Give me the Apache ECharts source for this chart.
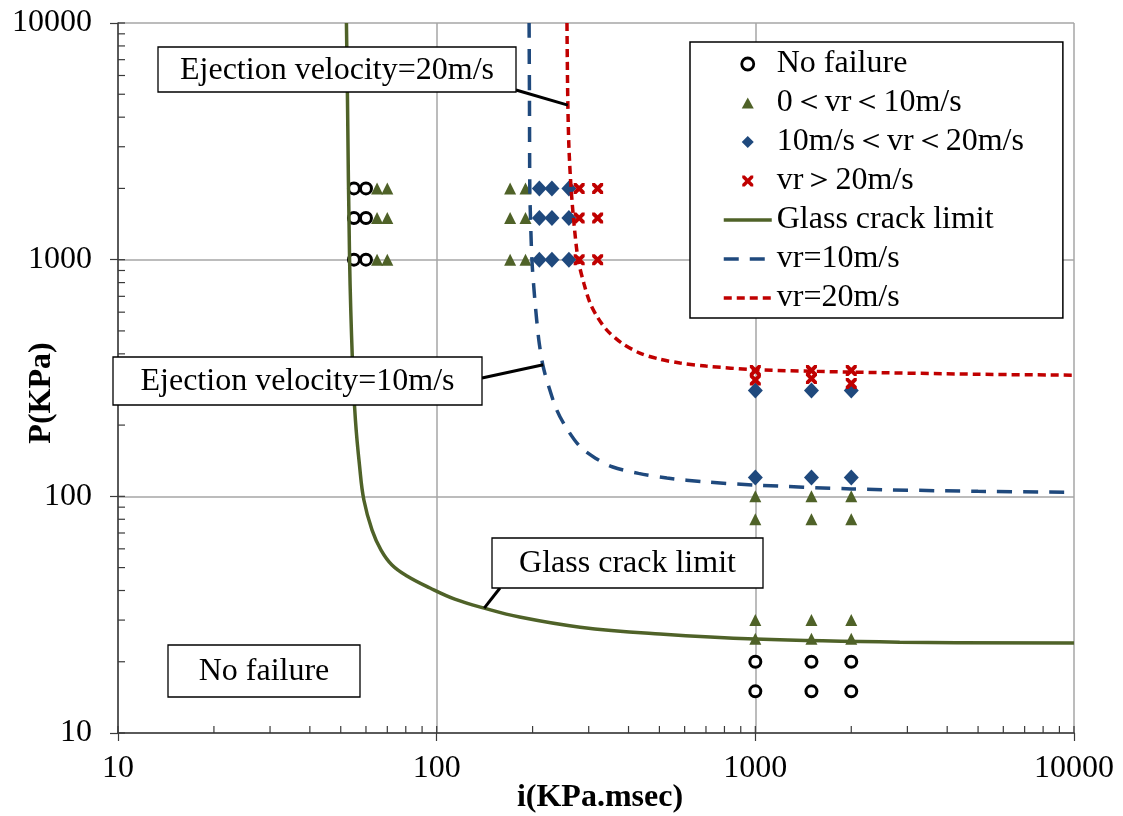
<!DOCTYPE html>
<html><head><meta charset="utf-8">
<script src="https://cdn.jsdelivr.net/npm/echarts@6/dist/echarts.min.js"></script>
<style>html,body{margin:0;padding:0;background:#fff}#c{width:1123px;height:816px}</style>
</head><body><div id="c"></div>
<script>
// ---- data ----
var xTicks = [10, 100, 1000, 10000];
var yTicks = [10, 100, 1000, 10000];
var seriesNames = ['No failure', '0＜vr＜10m/s', '10m/s＜vr＜20m/s', 'vr＞20m/s', 'Glass crack limit', 'vr=10m/s', 'vr=20m/s'];
var noFailure = [[55,2000],[60,2000],[55,1500],[60,1500],[55,1000],[60,1000],
  [1000,20],[1500,20],[2000,20],[1000,15],[1500,15],[2000,15]];
var vrBelow10 = [[65,2000],[70,2000],[65,1500],[70,1500],[65,1000],[70,1000],
  [170,2000],[190,2000],[170,1500],[190,1500],[170,1000],[190,1000],
  [1000,100],[1500,100],[2000,100],[1000,80],[1500,80],[2000,80],
  [1000,30],[1500,30],[2000,30],[1000,25],[1500,25],[2000,25]];
var vr10to20 = [[210,2000],[230,2000],[260,2000],[210,1500],[230,1500],[260,1500],
  [210,1000],[230,1000],[260,1000],
  [1000,280],[1500,280],[2000,280],[1000,120],[1500,120],[2000,120]];
var vrAbove20 = [[280,2000],[320,2000],[280,1500],[320,1500],[280,1000],[320,1000],
  [1000,340],[1000,310],[1500,340],[1500,315],[2000,340],[2000,300]];
var glassCrack = [[52.1,10000],[52.5,4725],[53.3,1000],[54.4,376],[55.6,210],[57.3,134],
  [59.1,96.5],[62.7,72],[66.9,59.3],[72.4,51.3],[80.7,46.1],[95.3,41.0],[114,36.8],
  [141,33.7],[182,30.9],[282,28],[502,26.2],[1000,24.95],[2840,24.2],[10000,24]];
var vr10 = [[195,10000],[195.5,5000],[196,2000],[197,1500],[199,1000],[202,750],[206,556],
  [210,440],[216,352],[225,290],[238,232],[255,195],[282,162],[315,145],[357,133],
  [430,125],[528,119.5],[700,115],[1000,111.6],[2000,107.5],[5000,105],[10000,104]];
var vr20 = [[256.4,10000],[257,7000],[258,4590],[260,3000],[264,2027],[270,1400],[278,1000],
  [290,790],[303,656],[320,570],[342,504],[380,445],[434,403],[500,380],[580,366],
  [700,355],[1000,343],[2000,335],[5000,328],[10000,325]];
// annotations: text and the curve point their pointer touches
var notes = [
  {text: 'Ejection velocity=20m/s', at: [258, 4500]},
  {text: 'Ejection velocity=10m/s', at: [216, 360]},
  {text: 'Glass crack limit', at: [141, 33.7]},
  {text: 'No failure', at: null}
];

var FONT = '"Liberation Serif", "Times New Roman", serif';
var crossPath = 'path://M0,0 L2.5,0 L5,2.5 L7.5,0 L10,0 L10,2.5 L7.5,5 L10,7.5 L10,10 L7.5,10 L5,7.5 L2.5,10 L0,10 L0,7.5 L2.5,5 L0,2.5 Z';
// legend icons: shapes centred in a 48x12 box (the M corners fix the box)
var legTri = 'path://M0,0 M48,12 M18,11.5 L24,0.5 L30,11.5 Z';
var legDia = 'path://M0,0 M48,12 M24,0 L30,6 L24,12 L18,6 Z';
var legCross = 'path://M0,0 M48,12 M18.5,0.5 L21,0.5 L24,3.5 L27,0.5 L29.5,0.5 L29.5,3 L26.5,6 L29.5,9 L29.5,11.5 L27,11.5 L24,8.5 L21,11.5 L18.5,11.5 L18.5,9 L21.5,6 L18.5,3 Z';
var cGreen = '#4F6228', cBlue = '#1F497D', cRed = '#C00000';

var chart = echarts.init(document.getElementById('c'), null, {renderer: 'canvas'});
function axisCommon(ticks) {
  return {
    type: 'log', logBase: 10, min: ticks[0], max: ticks[ticks.length - 1],
    axisLine: {show: true, lineStyle: {color: '#3a3a3a', width: 1.5}},
    axisTick: {show: true, inside: false, length: 8, lineStyle: {color: '#3a3a3a', width: 1.2}},
    splitLine: {show: true, lineStyle: {color: '#a6a6a6', width: 1.5}},
    minorTick: {show: false}, minorSplitLine: {show: false},
    axisLabel: {color: '#000', fontFamily: FONT, fontSize: 32,
      formatter: function (v) { var r = Math.round(v); return ticks.indexOf(r) >= 0 ? String(r) : ''; }}
  };
}
var xAxis = axisCommon(xTicks); xAxis.axisLabel.margin = 20;
var yAxis = axisCommon(yTicks); yAxis.axisLabel.margin = 26;

var noLineSymbol = {opacity: 0};
var option = {
  animation: false,
  backgroundColor: '#fff',
  grid: {left: 118, right: 49, top: 23, bottom: 83, containLabel: false},
  xAxis: xAxis,
  yAxis: yAxis,
  legend: {
    orient: 'vertical', left: 690, top: 42,
    backgroundColor: '#fff', borderColor: '#000', borderWidth: 1.5,
    padding: [6, 39, 4, 32], itemGap: 7, itemWidth: 48, itemHeight: 12,
    textStyle: {color: '#000', fontFamily: FONT, fontSize: 32},
    data: [
      {name: seriesNames[0], icon: 'circle', itemStyle: {color: '#fff', borderColor: '#000', borderWidth: 2.8}},
      {name: seriesNames[1], icon: legTri, itemStyle: {color: cGreen}},
      {name: seriesNames[2], icon: legDia, itemStyle: {color: cBlue}},
      {name: seriesNames[3], icon: legCross, itemStyle: {color: cRed}},
      {name: seriesNames[4], itemStyle: noLineSymbol, lineStyle: {width: 3.5}},
      {name: seriesNames[5], itemStyle: noLineSymbol, lineStyle: {width: 3.5}},
      {name: seriesNames[6], itemStyle: noLineSymbol, lineStyle: {width: 3.5}}
    ]
  },
  series: [
    {name: seriesNames[0], type: 'scatter', data: noFailure, symbol: 'circle', symbolSize: 11, z: 3,
     itemStyle: {color: '#fff', borderColor: '#000', borderWidth: 3, opacity: 1}},
    {name: seriesNames[1], type: 'scatter', data: vrBelow10, symbol: 'triangle', symbolSize: 12, z: 3,
     itemStyle: {color: cGreen, opacity: 1}},
    {name: seriesNames[2], type: 'scatter', data: vr10to20, symbol: 'diamond', symbolSize: [15, 16], z: 3,
     itemStyle: {color: cBlue, opacity: 1}},
    {name: seriesNames[3], type: 'scatter', data: vrAbove20, symbol: crossPath, symbolSize: 11, z: 3,
     itemStyle: {color: cRed, opacity: 1}},
    {name: seriesNames[4], type: 'line', data: glassCrack, symbol: 'none', smooth: 0.4, z: 4,
     lineStyle: {color: cGreen, width: 3.5}, itemStyle: {color: cGreen}},
    {name: seriesNames[5], type: 'line', data: vr10, symbol: 'none', smooth: 0.3, z: 4,
     lineStyle: {color: cBlue, width: 3.5, type: [15, 11]}, itemStyle: {color: cBlue}},
    {name: seriesNames[6], type: 'line', data: vr20, symbol: 'none', smooth: 0.3, z: 4,
     lineStyle: {color: cRed, width: 3.5, type: [8, 5]}, itemStyle: {color: cRed}}
  ]
};
chart.setOption(option);

// ---- overlay: minor log ticks, axis names, annotation boxes ----
function px(v) { return chart.convertToPixel({xAxisIndex: 0}, v); }
function py(v) { return chart.convertToPixel({yAxisIndex: 0}, v); }
var g = [];
var x0 = px(xTicks[0]), y0 = py(yTicks[0]);
for (var d = 0; d < xTicks.length; d++) {
  for (var m = 1; m <= 9; m++) {
    var v = xTicks[d] * m;
    if (v > xTicks[xTicks.length - 1]) break;
    var X = px(v);
    g.push({type: 'line', shape: {x1: X, y1: y0, x2: X, y2: y0 - 7}, style: {stroke: '#3a3a3a', lineWidth: 1.2}, z: 5});
  }
}
for (var d2 = 0; d2 < yTicks.length; d2++) {
  for (var m2 = 1; m2 <= 9; m2++) {
    var w = yTicks[d2] * m2;
    if (w > yTicks[yTicks.length - 1]) break;
    var Y = py(w);
    g.push({type: 'line', shape: {x1: x0, y1: Y, x2: x0 + 7, y2: Y}, style: {stroke: '#3a3a3a', lineWidth: 1.2}, z: 5});
  }
}
// axis names
g.push({type: 'text', x: 600, y: 798, style: {text: 'i(KPa.msec)', font: 'bold 32px ' + FONT, fill: '#000', align: 'center', verticalAlign: 'middle'}, z: 6});
g.push({type: 'text', x: 42, y: 393, rotation: Math.PI / 2, style: {text: 'P(KPa)', font: 'bold 32px ' + FONT, fill: '#000', align: 'center', verticalAlign: 'middle'}, z: 6});
// annotation boxes (layout in pixels), pointers end on curve data points
var boxes = [
  {x: 158, y: 47, w: 358, h: 45, from: [516, 90]},
  {x: 113, y: 357, w: 369, h: 48, from: [482, 378]},
  {x: 492, y: 538, w: 271, h: 50, from: [500, 588]},
  {x: 168, y: 645, w: 192, h: 52, from: null}
];
boxes.forEach(function (b, i) {
  var n = notes[i];
  if (n.at) {
    g.push({type: 'line', shape: {x1: b.from[0], y1: b.from[1], x2: px(n.at[0]), y2: py(n.at[1])},
      style: {stroke: '#000', lineWidth: 3}, z: 10});
  }
  g.push({type: 'rect', shape: {x: b.x, y: b.y, width: b.w, height: b.h},
    style: {fill: '#fff', stroke: '#000', lineWidth: 1.3}, z: 11});
  g.push({type: 'text', x: b.x + b.w / 2, y: b.y + b.h / 2 + 1,
    style: {text: n.text, font: '32px ' + FONT, fill: '#000', align: 'center', verticalAlign: 'middle'}, z: 12});
});
chart.setOption({graphic: {elements: g}});
</script>
</body></html>
